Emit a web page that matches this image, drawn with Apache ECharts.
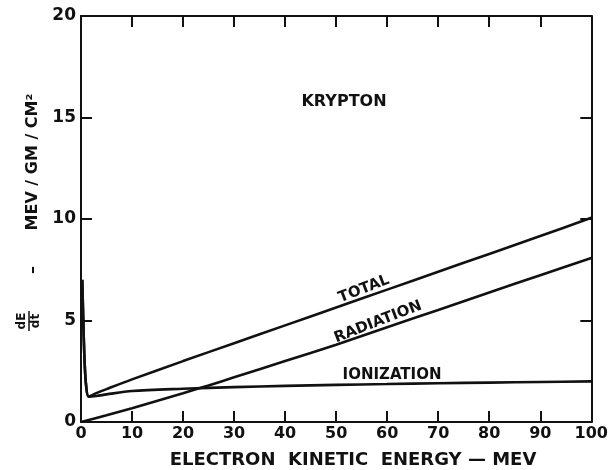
<!DOCTYPE html>
<html>
<head>
<meta charset="utf-8">
<script src="https://cdn.jsdelivr.net/npm/echarts@6/dist/echarts.min.js"></script>
<style>
html,body{margin:0;padding:0;background:#fff;}
#chart{width:611px;height:470px;}
</style>
</head>
<body>
<div id="chart"></div>
<script>
// Electron kinetic energy (MeV) and stopping power (MeV / gm / cm^2) in krypton
const totalE   = [0.25, 0.45, 0.7, 1.0, 1.5, 3, 5, 10, 20, 30, 40, 50, 60, 70, 80, 90, 100];
const totalV   = [7.0, 5.0, 3.0, 1.8, 1.25, 1.42, 1.62, 2.1, 3.0, 3.88, 4.76, 5.64, 6.52, 7.4, 8.28, 9.16, 10.06];
const ionE     = [0.25, 0.45, 0.7, 1.0, 1.5, 3, 5, 10, 20, 30, 40, 50, 60, 70, 80, 90, 100];
const ionV     = [7.0, 5.0, 3.0, 1.8, 1.25, 1.28, 1.36, 1.53, 1.64, 1.72, 1.78, 1.83, 1.87, 1.91, 1.94, 1.97, 2.0];
const radE     = [0, 5, 10, 20, 25, 30, 40, 50, 60, 70, 80, 90, 100];
const radV     = [0, 0.33, 0.68, 1.42, 1.8, 2.2, 3.0, 3.81, 4.67, 5.52, 6.38, 7.23, 8.08];
const xTicks   = [0, 10, 20, 30, 40, 50, 60, 70, 80, 90, 100];
const yTicks   = [0, 5, 10, 15, 20];
const curveLabels = ['TOTAL', 'RADIATION', 'IONIZATION'];

const ink = '#111';
const font = 'DejaVu Sans';
const pair = (xs, ys) => xs.map((x, i) => [x, ys[i]]);

const chart = echarts.init(document.getElementById('chart'), null, {renderer: 'canvas'});
const baseAxis = {
  type: 'value',
  axisLine: {show: true, onZero: false, lineStyle: {color: ink, width: 2}},
  axisTick: {show: true, inside: true, length: 11, lineStyle: {color: ink, width: 2}},
  splitLine: {show: false}
};
chart.setOption({
  backgroundColor: '#fff',
  animation: false,
  grid: {left: 81, right: 16, top: 16, bottom: 48},
  xAxis: [
    Object.assign({}, baseAxis, {
      min: xTicks[0], max: xTicks[xTicks.length - 1], interval: 10, position: 'bottom',
      axisLabel: {color: ink, fontFamily: font, fontWeight: 'bold', fontSize: 16, margin: 4,
                  formatter: v => xTicks.includes(v) ? String(v) : ''}
    }),
    Object.assign({}, baseAxis, {
      min: 0, max: 100, interval: 10, position: 'top',
      axisLabel: {show: false}
    })
  ],
  yAxis: [
    Object.assign({}, baseAxis, {
      min: yTicks[0], max: yTicks[yTicks.length - 1], interval: 5, position: 'left',
      axisLabel: {color: ink, fontFamily: font, fontWeight: 'bold', fontSize: 17, margin: 5,
                  formatter: v => yTicks.includes(v) ? String(v) : ''}
    }),
    Object.assign({}, baseAxis, {
      min: 0, max: 20, interval: 5, position: 'right',
      axisLabel: {show: false}
    })
  ],
  series: [
    {name: curveLabels[0], type: 'line', data: pair(totalE, totalV), showSymbol: false, smooth: 0.3,
     lineStyle: {color: ink, width: 2.6}},
    {name: curveLabels[1], type: 'line', data: pair(radE, radV), showSymbol: false, smooth: 0.3,
     lineStyle: {color: ink, width: 2.6}},
    {name: curveLabels[2], type: 'line', data: pair(ionE, ionV), showSymbol: false, smooth: 0.3,
     lineStyle: {color: ink, width: 2.6}}
  ],
  graphic: [
    {type: 'text', x: 344, y: 102, style: {text: 'KRYPTON', fill: ink, font: 'bold 16px "DejaVu Sans"', align: 'center', verticalAlign: 'middle'}},
    {type: 'text', x: 364, y: 289, rotation: 0.37, style: {text: curveLabels[0], fill: ink, font: 'bold 15px "DejaVu Sans"', align: 'center', verticalAlign: 'middle'}},
    {type: 'text', x: 378, y: 322, rotation: 0.37, style: {text: curveLabels[1], fill: ink, font: 'bold 15px "DejaVu Sans"', align: 'center', verticalAlign: 'middle'}},
    {type: 'text', x: 392, y: 375, style: {text: curveLabels[2], fill: ink, font: 'bold 15px "DejaVu Sans"', align: 'center', verticalAlign: 'middle'}},
    {type: 'text', x: 353, y: 460, style: {text: 'ELECTRON  KINETIC  ENERGY — MEV', fill: ink, font: 'bold 18px "DejaVu Sans"', align: 'center', verticalAlign: 'middle'}},
    {type: 'text', x: 33, y: 162, rotation: Math.PI / 2, style: {text: 'MEV / GM / CM²', fill: ink, font: 'bold 16px "DejaVu Sans"', align: 'center', verticalAlign: 'middle'}},
    {type: 'text', x: 33, y: 270, rotation: Math.PI / 2, style: {text: '–', fill: ink, font: 'bold 16px "DejaVu Sans"', align: 'center', verticalAlign: 'middle'}},
    {type: 'text', x: 22, y: 321, rotation: Math.PI / 2, style: {text: 'dE', fill: ink, font: 'bold 12px "DejaVu Sans"', align: 'center', verticalAlign: 'middle'}},
    {type: 'line', shape: {x1: 29, y1: 311, x2: 29, y2: 331}, style: {stroke: ink, lineWidth: 1.5}},
    {type: 'text', x: 36, y: 321, rotation: Math.PI / 2, style: {text: 'dt', fill: ink, font: 'bold 12px "DejaVu Sans"', align: 'center', verticalAlign: 'middle'}}
  ]
});
</script>
</body>
</html>
